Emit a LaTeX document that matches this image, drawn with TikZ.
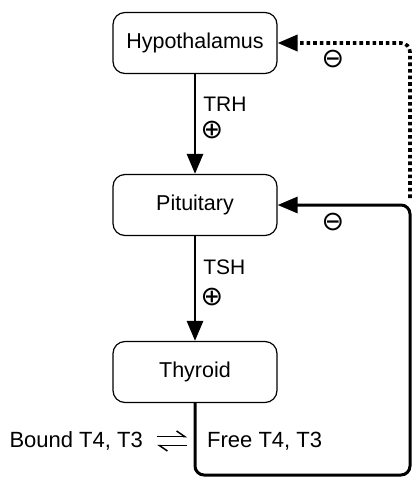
\documentclass[tikz,border=0pt]{standalone}
\usepackage{fontspec}
\setmainfont{Liberation Sans}
\newfontfamily\symfont{DejaVu Sans}
\usetikzlibrary{arrows.meta}

\begin{document}
\begin{tikzpicture}[x=1pt, y=-1pt,
    organ/.style={draw, rounded corners=12pt, line width=1.2pt, minimum width=164pt, minimum height=61pt, font=\fontsize{21.5}{25}\selectfont},
    lbl/.style={inner sep=0pt, font=\fontsize{21}{25}\selectfont},
    sign/.style={inner sep=0pt, font=\symfont\fontsize{27}{30}\selectfont},
    drive/.style={line width=2.8pt, -{Triangle[length=20pt, width=16pt]}},
    loop/.style={line width=3pt, rounded corners=9pt, -{Triangle[length=20pt, width=16pt]}},
    dots/.style={line width=3.6pt, dash pattern=on 3.6pt off 3pt, rounded corners=9pt, -{Triangle[length=20pt, width=16pt]}},
    harp/.style={line width=1.5pt, -{Straight Barb[left, length=8pt, width=11pt]}}]
    \useasboundingbox (0,0) rectangle (419,483);
    \node[organ] (hyp) at (195,43) {Hypothalamus};
    \node[organ] (pit) at (195,205) {Pituitary};
    \node[organ] (thy) at (195,372) {Thyroid};
    \draw[drive] (hyp) -- (pit) node[pos=0.3, right=7pt, lbl] (trh) {TRH};
    \draw[drive] (pit) -- (thy) node[pos=0.3, right=7pt, lbl] (tsh) {TSH};
    \node[sign] (plusa) at (212,130) {⊕};
    \node[sign] (plusb) at (212,297) {⊕};
    \node[lbl, anchor=east, font=\fontsize{22}{25}\selectfont] (bound) at (143,441) {Bound T4, T3};
    \node[lbl, anchor=west, font=\fontsize{22}{25}\selectfont] (free) at (207,441) {Free T4, T3};
    \draw[harp] ([xshift=14pt, yshift=4.5pt]bound.east) -- ([xshift=-20pt, yshift=4.5pt]free.west);
    \draw[harp] ([xshift=-20pt, yshift=-4.5pt]free.west) -- ([xshift=14pt, yshift=-4.5pt]bound.east);
    % feedback from the free hormones
    \coordinate (rb) at (410,475);
    \coordinate (rt) at (410,198);
    \draw[loop] (thy.south) |- (rb) |- (pit.east);
    \draw[dots] (rt) |- (hyp.east);
    \node[sign] (minusa) at (333,59) {⊖};
    \node[sign] (minusb) at (333,222) {⊖};
\end{tikzpicture}
\end{document}
